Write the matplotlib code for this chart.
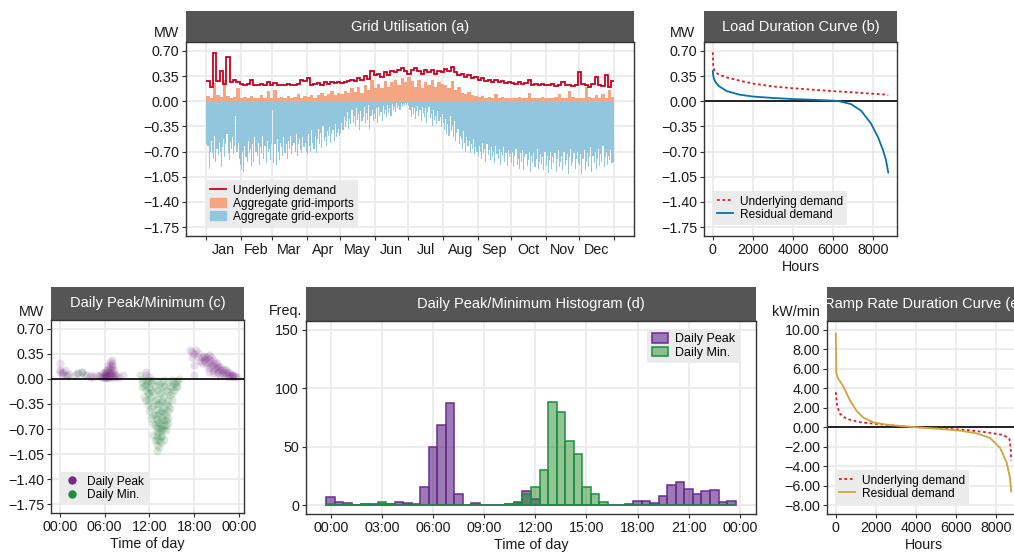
import numpy as np
import matplotlib
matplotlib.use('Agg')
import matplotlib.pyplot as plt
from matplotlib.lines import Line2D
from matplotlib.patches import Patch
from matplotlib.ticker import FuncFormatter

plt.rcParams['font.family'] = ['Liberation Sans', 'DejaVu Sans']

W, H = 1014, 553

# ---------------- data ----------------
# panel (a): demand and imports every 3 days, MW
step_days = np.arange(0, 366, 3)
edges = np.append(step_days, 365)
demand = [0.28, 0.20, 0.67, 0.28, 0.42, 0.24, 0.61, 0.27, 0.30, 0.26, 0.24,
          0.22, 0.24, 0.30, 0.23, 0.22, 0.24, 0.22, 0.27, 0.23,
          0.25, 0.22, 0.23, 0.22, 0.24, 0.23, 0.22, 0.24, 0.30, 0.28,
          0.32, 0.22, 0.24, 0.25, 0.23, 0.26, 0.24, 0.27, 0.25, 0.26,
          0.25, 0.26, 0.28, 0.30, 0.28, 0.32, 0.30, 0.35, 0.31, 0.42, 0.36,
          0.38, 0.34, 0.40, 0.37, 0.42, 0.40, 0.44, 0.46, 0.42, 0.38,
          0.44, 0.46, 0.42, 0.38, 0.43, 0.40, 0.44, 0.38, 0.42, 0.40,
          0.45, 0.42, 0.48, 0.40, 0.36, 0.38, 0.34, 0.36, 0.32, 0.33,
          0.30, 0.32, 0.28, 0.30, 0.27, 0.29, 0.26, 0.28, 0.25, 0.27,
          0.25, 0.24, 0.26, 0.24, 0.25, 0.30, 0.23, 0.24, 0.22, 0.24, 0.23,
          0.22, 0.24, 0.21, 0.23, 0.26, 0.22, 0.23, 0.21, 0.22, 0.40,
          0.24, 0.22, 0.20, 0.24, 0.33, 0.22, 0.21, 0.37, 0.20, 0.28]
imports = [0.07, 0.05, 0.25, 0.08, 0.06, 0.30, 0.07, 0.05, 0.06, 0.18, 0.05,
           0.06, 0.04, 0.07, 0.05, 0.04, 0.08, 0.05, 0.14, 0.05,
           0.15, 0.05, 0.06, 0.04, 0.07, 0.05, 0.06, 0.10, 0.05, 0.07,
           0.06, 0.08, 0.05, 0.09, 0.12, 0.07, 0.10, 0.14, 0.08, 0.12,
           0.10, 0.14, 0.12, 0.18, 0.13, 0.20, 0.12, 0.22, 0.16, 0.30, 0.18,
           0.24, 0.18, 0.28, 0.20, 0.26, 0.30, 0.22, 0.32, 0.27, 0.33,
           0.28, 0.20, 0.30, 0.18, 0.26, 0.22, 0.30, 0.20, 0.27, 0.24,
           0.22, 0.18, 0.28, 0.15, 0.20, 0.12, 0.10, 0.13, 0.08, 0.07,
           0.06, 0.07, 0.05, 0.06, 0.05, 0.10, 0.05, 0.06, 0.04, 0.05,
           0.05, 0.04, 0.06, 0.04, 0.05, 0.12, 0.04, 0.05, 0.04, 0.06, 0.04,
           0.05, 0.04, 0.06, 0.10, 0.05, 0.04, 0.14, 0.06, 0.05, 0.04,
           0.05, 0.20, 0.06, 0.05, 0.08, 0.04, 0.10, 0.05, 0.15, 0.06]
# daily grid exports (most negative value of each day), MW
exports_daily = [
    # Jan
    -0.60, -0.62, -0.94, -0.70, -0.55, -0.72, -0.80, -0.48, -0.85, -0.66, -0.75,
    -0.58, -0.70, -0.92, -0.64, -0.52, -0.78, -0.60, -0.45, -0.72, -0.82, -0.56,
    -0.66, -0.50, -0.74, -0.62, -0.20, -0.70, -0.58, -0.80, -0.88,
    # Feb
    -0.95, -0.70, -0.99, -0.62, -0.78, -0.85, -0.55, -0.72, -0.66, -0.90, -0.60,
    -0.84, -0.50, -0.70, -0.76, -0.58, -0.88, -0.64, -0.72, -0.48, -0.80, -0.62,
    -0.86, -0.55, -0.70, -0.66, -0.82, -0.60,
    # Mar
    -0.12, -0.86, -0.60, -0.89, -0.52, -0.70, -0.82, -0.58, -0.64, -0.76, -0.50,
    -0.72, -0.60, -0.80, -0.55, -0.66, -0.48, -0.74, -0.62, -0.58, -0.70, -0.45,
    -0.76, -0.60, -0.52, -0.68, -0.72, -0.50, -0.64, -0.58, -0.70,
    # Apr
    -0.74, -0.45, -0.62, -0.70, -0.40, -0.58, -0.66, -0.48, -0.72, -0.52, -0.38,
    -0.60, -0.44, -0.65, -0.35, -0.55, -0.50, -0.62, -0.42, -0.48, -0.36, -0.58,
    -0.46, -0.40, -0.55, -0.32, -0.50, -0.44, -0.38, -0.48,
    # May
    -0.44, -0.30, -0.40, -0.22, -0.36, -0.28, -0.15, -0.38, -0.25, -0.32, -0.12,
    -0.30, -0.20, -0.35, -0.10, -0.26, -0.18, -0.40, -0.14, -0.28, -0.22, -0.08,
    -0.30, -0.16, -0.26, -0.05, -0.38, -0.20, -0.12, -0.28, -0.18,
    # Jun
    -0.25, -0.10, -0.30, -0.08, -0.20, -0.15, -0.28, -0.06, -0.18, -0.12, -0.22,
    -0.05, -0.16, -0.10, -0.20, -0.04, -0.12, -0.08, -0.15, -0.03, -0.10, -0.06,
    -0.12, -0.02, -0.08, -0.04, -0.06, -0.02, -0.05, -0.03,
    # Jul
    -0.06, -0.12, -0.22, -0.08, -0.18, -0.10, -0.25, -0.14, -0.06, -0.20, -0.12,
    -0.28, -0.08, -0.16, -0.22, -0.10, -0.30, -0.15, -0.08, -0.24, -0.18, -0.35,
    -0.12, -0.26, -0.20, -0.32, -0.14, -0.28, -0.22, -0.36, -0.18,
    # Aug
    -0.30, -0.40, -0.25, -0.45, -0.32, -0.48, -0.20, -0.42, -0.35, -0.50, -0.28,
    -0.55, -0.44, -0.38, -0.60, -0.48, -0.52, -0.66, -0.42, -0.58, -0.70, -0.50,
    -0.62, -0.55, -0.72, -0.60, -0.66, -0.52, -0.74, -0.64, -0.70,
    # Sep
    -0.76, -0.62, -0.70, -0.80, -0.58, -0.72, -0.66, -0.84, -0.60, -0.75, -0.68,
    -0.82, -0.64, -0.78, -0.70, -0.86, -0.62, -0.74, -0.80, -0.66, -0.88, -0.70,
    -0.76, -0.64, -0.84, -0.72, -0.90, -0.68, -0.78, -0.74,
    # Oct
    -0.86, -0.70, -0.92, -0.76, -0.66, -0.88, -0.80, -0.94, -0.72, -0.84, -0.68,
    -0.96, -0.78, -0.74, -0.90, -0.82, -0.70, -0.98, -0.76, -0.86, -0.72, -0.92,
    -0.80, -0.66, -0.94, -0.84, -0.74, -0.88, -0.78, -0.96, -0.70,
    # Nov
    -0.90, -0.76, -1.00, -0.82, -0.70, -0.94, -0.78, -0.86, -0.72, -0.98, -0.80,
    -0.68, -0.92, -0.84, -0.76, -0.96, -0.70, -0.88, -0.82, -0.74, -1.01, -0.78,
    -0.66, -0.90, -0.84, -0.72, -0.94, -0.80, -0.70, -0.86,
    # Dec
    -0.88, -0.74, -1.01, -0.80, -0.68, -0.96, -0.84, -0.72, -0.92, -0.78, -0.64,
    -0.98, -0.76, -0.86, -0.70, -0.94, -0.80, -0.66, -0.90, -0.74, -0.84, -0.62,
    -0.92, -0.78, -0.70, -0.88, -0.76, -0.82, -0.68, -0.86, -0.84]
month_starts = [0, 31, 59, 90, 120, 151, 181, 212, 243, 273, 304, 334, 365]
month_names = ['Jan', 'Feb', 'Mar', 'Apr', 'May', 'Jun',
               'Jul', 'Aug', 'Sep', 'Oct', 'Nov', 'Dec']

# panel (b): load duration curves
ldc_hours = [0, 20, 60, 150, 300, 700, 1350, 2000, 3000, 4000, 5000, 6000,
             6300, 6900, 7400, 7900, 8250, 8500, 8650, 8760]
ldc_underlying = [0.68, 0.50, 0.44, 0.40, 0.37, 0.33, 0.285, 0.245, 0.205, 0.18,
                  0.16, 0.14, 0.135, 0.125, 0.115, 0.105, 0.10, 0.095, 0.09, 0.085]
ldc_residual = [0.42, 0.36, 0.31, 0.26, 0.21, 0.14, 0.09, 0.065, 0.045, 0.03,
                0.02, 0.008, 0.0, -0.04, -0.13, -0.31, -0.50, -0.68, -0.82, -0.99]

# panel (c): daily peak / minimum (hour of day, MW)
peak_hour = [0.0, 0.0, 0.1, 0.25, 0.5, 0.5, 0.75, 1.0, 1.25, 2.0, 2.5, 3.0, 3.5, 4.0,
             4.25, 4.5, 5.0, 5.25,
             5.5, 5.5, 5.75, 5.75, 6.0, 6.0, 6.0, 6.0, 6.25, 6.25, 6.25, 6.25,
             6.5, 6.5, 6.5, 6.5, 6.5, 6.75, 6.75, 6.75, 6.75, 6.75,
             7.0, 7.0, 7.0, 7.0, 7.0, 7.0, 7.25, 7.25, 7.5, 7.5, 8.0, 8.5,
             6.5, 6.75, 7.0, 7.0, 6.25, 7.25, 6.0, 6.75,
             11.5, 11.5, 12.0,
             17.5, 17.75, 18.0, 18.0, 18.25, 18.5, 18.75, 19.0, 19.25, 19.5, 19.5,
             19.75, 20.0, 20.0, 20.0, 20.0, 20.25, 20.25, 20.5, 20.5, 20.5, 20.5,
             20.75, 21.0, 21.0, 21.0, 21.25, 21.5, 21.5, 21.75, 22.0, 22.0, 22.25,
             22.5, 22.5, 22.75, 23.0, 23.25, 23.5, 23.75,
             18.5, 19.0, 19.5, 19.75, 20.25, 20.75, 21.0, 21.25, 21.5, 21.75,
             22.0, 22.25, 22.5, 22.75, 23.0, 23.25, 19.25, 20.0, 18.0, 17.75]
peak_mw = [0.22, 0.12, 0.10, 0.08, 0.10, 0.06, 0.12, 0.05, 0.07, 0.06, 0.08, 0.09, 0.05, 0.03,
           0.06, 0.02, 0.05, 0.04,
           0.02, 0.05, 0.03, 0.08, 0.01, 0.03, 0.05, 0.10, 0.02, 0.04, 0.07, 0.12,
           0.01, 0.03, 0.06, 0.09, 0.14, 0.02, 0.05, 0.10, 0.18, 0.24,
           0.02, 0.05, 0.08, 0.13, 0.20, 0.27, 0.03, 0.07, 0.02, 0.05, 0.03, 0.06,
           0.20, 0.14, 0.17, 0.22, 0.09, 0.12, 0.06, 0.08,
           0.10, 0.05, 0.02,
           0.40, 0.38, 0.35, 0.05, 0.40, 0.30, 0.25, 0.22, 0.32, 0.28, 0.30,
           0.20, 0.33, 0.28, 0.22, 0.15, 0.30, 0.18, 0.26, 0.20, 0.12, 0.08,
           0.15, 0.22, 0.14, 0.08, 0.10, 0.16, 0.06, 0.12, 0.10, 0.05, 0.08,
           0.06, 0.03, 0.05, 0.04, 0.02, 0.04, 0.03,
           0.36, 0.30, 0.24, 0.30, 0.24, 0.22, 0.18, 0.16, 0.12, 0.08,
           0.14, 0.12, 0.09, 0.08, 0.06, 0.05, 0.26, 0.10, 0.20, 0.30]
min_hour = [1.0, 2.25, 3.0, 3.25,
            10.75, 11.0, 11.0, 11.25, 11.5, 11.5, 11.5, 11.75, 11.75, 12.0, 12.0, 12.0, 12.0,
            12.25, 12.25, 12.25, 12.5, 12.5, 12.5, 12.5, 12.5, 12.75, 12.75, 12.75,
            13.0, 13.0, 13.0, 13.0, 13.0, 13.0, 13.0, 13.0, 13.0,
            13.25, 13.25, 13.25, 13.25, 13.25, 13.5, 13.5, 13.5, 13.5, 13.5, 13.5,
            13.75, 13.75, 13.75, 14.0, 14.0, 14.0, 14.0, 14.0, 14.0,
            14.25, 14.25, 14.25, 14.5, 14.5, 14.5, 14.5, 14.75, 14.75,
            15.0, 15.0, 15.0, 15.25, 15.5, 15.5, 15.75, 16.0,
            11.25, 11.5, 11.75, 12.0, 12.25, 12.5, 12.75, 12.75, 13.0, 13.0, 13.0,
            13.0, 13.0, 13.25, 13.25, 13.25, 13.25, 13.5, 13.5, 13.5, 13.75, 13.75,
            13.75, 14.0, 14.0, 14.0, 14.25, 14.25, 14.25, 14.5, 14.5, 14.5, 14.75,
            15.0, 15.25, 15.75, 12.25, 11.0]
min_mw = [0.04, 0.08, 0.10, 0.06,
          0.06, 0.00, -0.05, -0.10, -0.02, -0.15, -0.08, -0.20, -0.04, -0.01, -0.12, -0.30, -0.45,
          -0.06, -0.25, -0.55, -0.02, -0.18, -0.38, -0.62, -0.78, -0.10, -0.50, -0.85,
          -0.03, -0.15, -0.28, -0.42, -0.56, -0.68, -0.80, -0.92, -1.00,
          -0.08, -0.35, -0.60, -0.75, -0.95, -0.05, -0.20, -0.45, -0.65, -0.72, -0.88,
          -0.12, -0.55, -0.80, -0.02, -0.25, -0.40, -0.58, -0.70, -0.85,
          -0.15, -0.50, -0.65, -0.05, -0.30, -0.45, -0.55, -0.10, -0.22,
          -0.02, -0.12, -0.20, -0.06, -0.03, -0.10, -0.04, 0.00,
          -0.25, -0.30, -0.35, -0.20, -0.40, -0.50, -0.30, -0.65, -0.35, -0.50, -0.62,
          -0.74, -0.86, -0.20, -0.48, -0.68, -0.85, -0.32, -0.58, -0.80, -0.30, -0.45,
          -0.68, -0.10, -0.48, -0.64, -0.35, -0.58, -0.72, -0.18, -0.38, -0.62, -0.40,
          -0.30, -0.15, -0.12, -0.15, -0.12]

# panel (d): histogram counts, half-hour bins centred on 00:00 ... 23:30
bin_hours = np.arange(0, 24, 0.5)
peak_counts = [7, 3, 2, 0, 1, 1, 1, 1, 3, 2, 1, 16, 50, 69, 87, 10, 0, 2, 0, 0, 0, 1,
               3, 12, 5, 0, 0, 0, 0, 0, 0, 0, 0, 0, 0, 1, 4, 4, 2, 8, 17, 20, 14, 10,
               12, 13, 3, 4]
min_counts = [1, 0, 1, 0, 1, 0, 3, 1, 0, 0, 0, 0, 0, 0, 0, 0, 0, 0, 0, 0, 0, 1,
              2, 10, 16, 30, 88, 80, 55, 44, 16, 10, 3, 0, 0, 0, 0, 0, 0, 0, 0, 0,
              0, 0, 0, 0, 0, 0]

# panel (e): ramp rate duration curves, kW/min
ramp_hours_res = [0, 30, 120, 370, 700, 1030, 1370, 1870, 2530, 3370, 4030, 5030,
                  6200, 7030, 7700, 8200, 8530, 8700, 8760]
ramp_residual = [9.6, 5.5, 5.0, 4.2, 2.8, 1.7, 1.0, 0.5, 0.27, 0.1, 0.0, -0.14,
                 -0.35, -0.62, -1.1, -2.1, -3.6, -5.2, -6.6]
ramp_hours_und = [0, 70, 200, 530, 1200, 2030, 2870, 4030, 5370, 6530, 7530, 8370,
                  8670, 8730, 8760]
ramp_underlying = [3.6, 2.2, 1.4, 0.86, 0.52, 0.34, 0.17, 0.0, -0.14, -0.28, -0.52,
                   -0.79, -1.2, -2.1, -3.4]

# ---------------- styling helpers ----------------
STRIP = '#555555'
GRID = '#EBEBEB'
LEG_BG = '#EBEBEB'
TXT = '#1a1a1a'
TICK_FS = 10.3
LAB_FS = 10.3


def fmt2(v, pos=None):
    s = '%.2f' % v
    if s == '-0.00':
        s = '0.00'
    return s.replace('-', '\u2212')


def px_axes(fig, left, top, right, bottom):
    return fig.add_axes([left / W, 1 - bottom / H, (right - left) / W, (bottom - top) / H])


def panel(fig, left, top, right, bottom, strip_top, title):
    st = px_axes(fig, left, strip_top, right, top)
    st.set_facecolor(STRIP)
    st.set_xticks([]); st.set_yticks([])
    for s in st.spines.values():
        s.set_visible(False)
    st.text(0.5, 0.5, title, color='white', fontsize=10.5, ha='center', va='center',
            transform=st.transAxes)
    ax = px_axes(fig, left, top, right, bottom)
    for s in ax.spines.values():
        s.set_color('#333333'); s.set_linewidth(1.0)
    ax.grid(True, color=GRID, lw=1.3)
    ax.set_axisbelow(True)
    ax.tick_params(length=3, width=0.8, color='#333333', labelsize=TICK_FS, pad=2,
                   labelcolor=TXT)
    return ax


def unit(fig, x, y, s):
    fig.text(x / W, 1 - y / H, s, ha='right', va='center', fontsize=10.3, color=TXT)


def legend(ax, handles, labels, loc, anchor, fs=8.6):
    ax.legend(handles, labels, loc=loc, bbox_to_anchor=anchor, frameon=True,
              facecolor=LEG_BG, edgecolor='none', fancybox=False, framealpha=1,
              fontsize=fs, handlelength=1.3, handleheight=0.8, borderpad=0.35,
              labelspacing=0.1, handletextpad=0.6, borderaxespad=0)


mw_ticks = [0.70, 0.35, 0.0, -0.35, -0.70, -1.05, -1.40, -1.75]
mw_lim = (-1.8725, 0.8225)

fig = plt.figure(figsize=(W / 100, H / 100), dpi=100)

# ---- (a) grid utilisation
ax = panel(fig, 186, 42, 634, 236, 11, 'Grid Utilisation (a)')
ax.stairs(exports_daily, np.arange(len(exports_daily) + 1), baseline=0, fill=True,
          color='#92C5DE', lw=0)
ax.stairs(imports, edges, baseline=0, fill=True, color='#F4A582', lw=0)
ax.stairs(demand, edges, baseline=None, color='#CA0020', lw=1.3)
ax.set_xlim(-18.25, 383.25)
ax.set_ylim(*mw_lim)
ax.set_yticks(mw_ticks)
ax.yaxis.set_major_formatter(FuncFormatter(fmt2))
ax.set_xticks(month_starts)
ax.set_xticklabels([])
mids = [(a + b) / 2 for a, b in zip(month_starts[:-1], month_starts[1:])]
ax.set_xticks(mids, minor=True)
ax.set_xticklabels(month_names, minor=True)
ax.tick_params(axis='x', which='minor', length=0, labelsize=TICK_FS, pad=5, labelcolor=TXT)
legend(ax, [Line2D([], [], color='#CA0020', lw=1.3),
            Patch(color='#F4A582'), Patch(color='#92C5DE')],
       ['Underlying demand', 'Aggregate grid-imports', 'Aggregate grid-exports'],
       'lower left', (0.045, 0.046))
unit(fig, 179, 33, 'MW')

# ---- (b) load duration curve
ax = panel(fig, 704, 42, 897, 236, 11, 'Load Duration Curve (b)')
ax.axhline(0, color='black', lw=1.2)
ax.plot(ldc_hours, ldc_underlying, color='#E41A1C', lw=1.3, ls=(0, (1.5, 1.5)))
ax.plot(ldc_hours, ldc_residual, color='#0571B0', lw=1.3)
ax.set_xlim(-438, 9198)
ax.set_ylim(*mw_lim)
ax.set_yticks(mw_ticks)
ax.yaxis.set_major_formatter(FuncFormatter(fmt2))
ax.set_xticks([0, 2000, 4000, 6000, 8000])
ax.set_xlabel('Hours', fontsize=LAB_FS, color=TXT, labelpad=2)
legend(ax, [Line2D([], [], color='#E41A1C', lw=1.3, ls=(0, (1.5, 1.5))),
            Line2D([], [], color='#0571B0', lw=1.3)],
       ['Underlying demand', 'Residual demand'], 'lower left', (0.047, 0.057))
unit(fig, 695, 33, 'MW')

# ---- (c) daily peak / minimum scatter
ax = panel(fig, 51, 320, 244, 513, 287, 'Daily Peak/Minimum (c)')
ax.axhline(0, color='black', lw=1.2, zorder=3)
ax.scatter(peak_hour, peak_mw, s=34, color='#762A83', alpha=0.15, lw=0, zorder=2)
ax.scatter(min_hour, min_mw, s=34, color='#1B7837', alpha=0.15, lw=0, zorder=2)
ax.set_xlim(-1.17, 24.67)
ax.set_ylim(*mw_lim)
ax.set_yticks(mw_ticks)
ax.yaxis.set_major_formatter(FuncFormatter(fmt2))
ax.set_xticks([0, 6, 12, 18, 24])
ax.set_xticklabels(['00:00', '06:00', '12:00', '18:00', '00:00'])
ax.set_xlabel('Time of day', fontsize=LAB_FS, color=TXT, labelpad=2)
legend(ax, [Line2D([], [], marker='o', ls='', color='#762A83', ms=5),
            Line2D([], [], marker='o', ls='', color='#1B8F3F', ms=5)],
       ['Daily Peak', 'Daily Min.'], 'lower left', (0.047, 0.041))
unit(fig, 44, 312, 'MW')

# ---- (d) histogram
ax = panel(fig, 306, 321, 756, 514, 287, 'Daily Peak/Minimum Histogram (d)')
ax.bar(bin_hours, peak_counts, width=0.5, color='#581B7F', alpha=0.58, lw=0, zorder=2)
ax.bar(bin_hours, peak_counts, width=0.5, fill=False, edgecolor='#6A2C91', lw=1.1, zorder=3)
ax.bar(bin_hours, min_counts, width=0.5, color='#2A8A2A', alpha=0.5, lw=0, zorder=4)
ax.bar(bin_hours, min_counts, width=0.5, fill=False, edgecolor='#17913F', lw=1.1, zorder=5)
ax.set_xlim(-1.45, 24.95)
ax.set_ylim(-7.5, 157.5)
ax.set_yticks([0, 50, 100, 150])
ax.set_xticks(np.arange(0, 25, 3))
ax.set_xticklabels(['00:00', '03:00', '06:00', '09:00', '12:00', '15:00',
                    '18:00', '21:00', '00:00'])
ax.set_xlabel('Time of day', fontsize=LAB_FS, color=TXT, labelpad=2)
legend(ax, [Patch(facecolor='#9B78B5', edgecolor='#6A2C91', lw=1.1),
            Patch(facecolor='#8FBF8F', edgecolor='#17913F', lw=1.1)],
       ['Daily Peak', 'Daily Min.'], 'upper right', (0.964, 0.959), fs=9)
unit(fig, 302, 311, 'Freq.')

# ---- (e) ramp rate duration curve
ax = panel(fig, 827, 321, 1020, 514, 287, 'Ramp Rate Duration Curve (e)')
ax.axhline(0, color='black', lw=1.2)
ax.plot(ramp_hours_und, ramp_underlying, color='#E41A1C', lw=1.3, ls=(0, (1.5, 1.5)))
ax.plot(ramp_hours_res, ramp_residual, color='#CFA53C', lw=1.3)
ax.set_xlim(-438, 9198)
ax.set_ylim(-8.9, 10.9)
ax.set_yticks(np.arange(10, -9, -2))
ax.yaxis.set_major_formatter(FuncFormatter(fmt2))
ax.set_xticks([0, 2000, 4000, 6000, 8000])
ax.set_xlabel('Hours', fontsize=LAB_FS, color=TXT, labelpad=2)
legend(ax, [Line2D([], [], color='#E41A1C', lw=1.3, ls=(0, (1.5, 1.5))),
            Line2D([], [], color='#CFA53C', lw=1.3)],
       ['Underlying demand', 'Residual demand'], 'lower left', (0.041, 0.052))
unit(fig, 820, 312, 'kW/min')

fig.savefig('out.png', dpi=100)
